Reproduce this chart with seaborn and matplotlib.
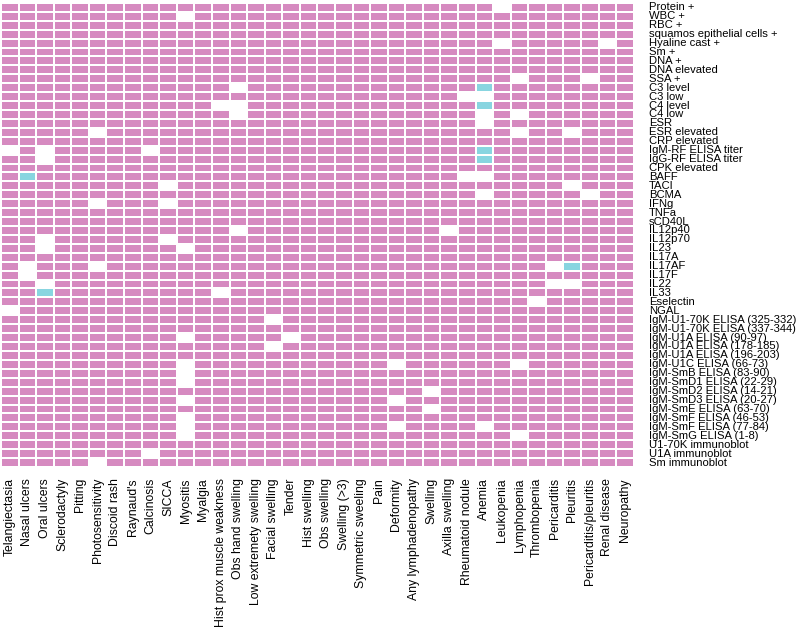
import numpy as np
import pandas as pd
import seaborn as sns
import matplotlib.pyplot as plt
from matplotlib.colors import ListedColormap

plt.rcParams['font.family'] = ['Liberation Sans', 'DejaVu Sans']

# clinical features (columns)
features = ["Telangiectasia", "Nasal ulcers", "Oral ulcers", "Sclerodactyly", "Pitting",
            "Photosensitivity", "Discoid rash", "Raynaud's", "Calcinosis", "SICCA", "Myositis",
            "Myalgia", "Hist prox muscle weakness", "Obs hand swelling", "Low extremety swelling",
            "Facial swelling", "Tender", "Hist swelling", "Obs swelling", "Swelling (>3)",
            "Symmetric sweeling", "Pain", "Deformity", "Any lymphadenopathy", "Swelling",
            "Axilla swelling", "Rheumatoid nodule", "Anemia", "Leukopenia", "Lymphopenia",
            "Thrombopenia", "Pericarditis", "Pleuritis", "Pericarditis/pleuritis",
            "Renal disease", "Neuropathy"]

# lab / serology variables (rows)
markers = ["Protein +", "WBC +", "RBC +", "squamos epithelial cells +", "Hyaline cast +", "Sm +",
           "DNA +", "DNA elevated", "SSA +", "C3 level", "C3 low", "C4 level", "C4 low", "ESR",
           "ESR elevated", "CRP elevated", "IgM-RF ELISA titer", "IgG-RF ELISA titer",
           "CPK elevated", "BAFF", "TACI", "BCMA", "IFNg", "TNFa", "sCD40L", "IL12p40",
           "IL12p70", "IL23", "IL17A", "IL17AF", "IL17F", "IL22", "IL33", "Eselectin", "NGAL",
           "IgM-U1-70K ELISA (325-332)", "IgM-U1-70K ELISA (337-344)", "IgM-U1A ELISA (90-97)",
           "IgM-U1A ELISA (178-185)", "IgM-U1A ELISA (196-203)", "IgM-U1C ELISA (66-73)",
           "IgM-SmB ELISA (83-90)", "IgM-SmD1 ELISA (22-29)", "IgM-SmD2 ELISA (14-21)",
           "IgM-SmD3 ELISA (20-27)", "IgM-SmE ELISA (63-70)", "IgM-SmF ELISA (46-53)",
           "IgM-SmF ELISA (77-84)", "IgM-SmG ELISA (1-8)", "U1-70K immunoblot",
           "U1A immunoblot", "Sm immunoblot"]

# (row, column) of cells with no test result
missing = [(0, 28), (1, 10), (4, 28), (4, 34), (8, 29), (8, 33), (9, 13), (10, 26), (10, 27),
           (11, 12), (11, 13), (12, 13), (12, 27), (12, 29), (13, 27), (14, 5), (14, 29),
           (14, 32), (16, 0), (16, 2), (16, 8), (17, 2), (19, 26), (19, 27), (20, 9),
           (20, 32), (21, 27), (21, 33), (22, 5), (22, 9), (25, 13), (25, 25), (26, 2),
           (26, 9), (27, 2), (27, 10), (29, 1), (29, 5), (29, 31), (30, 1), (31, 2),
           (31, 31), (31, 32), (32, 12), (33, 30), (34, 0), (35, 15), (37, 10), (37, 16),
           (38, 15), (40, 10), (40, 22), (40, 29), (41, 10), (42, 10), (43, 24), (44, 10),
           (44, 22), (45, 24), (46, 10), (47, 10), (47, 22), (47, 27), (48, 10), (48, 29),
           (50, 8), (51, 5)]

# (row, column) of cells with the other outcome
other = [(9, 27), (11, 27), (16, 27), (17, 27), (19, 1), (29, 32), (32, 2)]

vals = np.ones((len(markers), len(features)))
for r, c in missing:
    vals[r, c] = np.nan
for r, c in other:
    vals[r, c] = 0
df = pd.DataFrame(vals, index=markers, columns=features)

fig = plt.figure(figsize=(8, 6.28), dpi=100)
ax = fig.add_axes([0.00125, 0.2564, 0.791, 0.739])
sns.heatmap(df, ax=ax, cmap=ListedColormap(["#88d5e0", "#d68ac0"]), vmin=0, vmax=1,
            cbar=False, linewidths=1.2, linecolor="white")

ax.yaxis.tick_right()
ax.set_yticks(np.arange(len(markers)) + 0.5)
ax.set_yticklabels(markers, rotation=0, fontsize=8.1, ha="left", va="center")
ax.set_xticks(np.arange(len(features)) + 0.5)
ax.set_xticklabels(features, rotation=90, fontsize=8.8)
ax.tick_params(axis="y", length=0, pad=11)
ax.tick_params(axis="x", length=0, pad=8)
ax.set_xlabel("")
ax.set_ylabel("")

plt.savefig("out.png", dpi=100)
